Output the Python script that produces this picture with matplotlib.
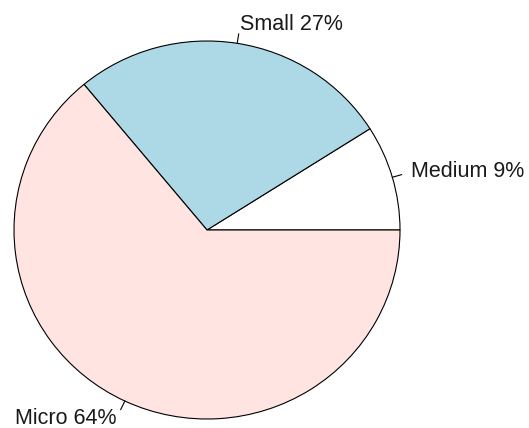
import numpy as np
import matplotlib.pyplot as plt

categories = ["Medium", "Small", "Micro"]
shares = [9, 27, 64]
colors = ["white", "#ADD8E6", "#FFE4E1"]

labels = [c + " " + str(s) + "%" for c, s in zip(categories, shares)]

fig = plt.figure(figsize=(5.29, 4.28), dpi=100)
ax = fig.add_axes([0, 0, 1, 1])

# reference pie is a touch squashed vertically (193 px wide radius, 189 px tall)
sy = 193 / 189
cx, cy, r = 207, 198 * sy, 193
wedges, texts = ax.pie(shares, labels=labels, colors=colors, startangle=0,
                       counterclock=True, center=(cx, cy), radius=r,
                       labeldistance=1.1, frame=True,
                       wedgeprops=dict(edgecolor="black", linewidth=0.8),
                       textprops=dict(fontsize=15.5, family="Liberation Sans",
                                      color="#1a1a1a"))
ax.set_xlim(0, 529)
ax.set_ylim(0, 428 * sy)
ax.set_aspect("auto")
ax.axis("off")

# small tick marks from the rim to each label, like R's pie()
frac = np.cumsum([0] + shares) / sum(shares)
for i in range(len(shares)):
    a = 2 * np.pi * (frac[i] + frac[i + 1]) / 2
    ax.plot([cx + r * np.cos(a), cx + 1.05 * r * np.cos(a)],
            [cy + r * np.sin(a), cy + 1.05 * r * np.sin(a)],
            color="black", linewidth=0.8)
    texts[i].set_ha("left" if np.cos(a) > 0 else "right")
    texts[i].set_va("center")

plt.savefig("out.png", dpi=100)
